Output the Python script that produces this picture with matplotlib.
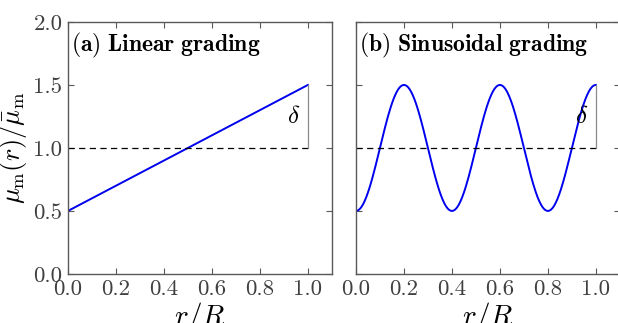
import numpy as np
import matplotlib
matplotlib.use("Agg")
import matplotlib.pyplot as plt

plt.rcParams['mathtext.fontset'] = 'cm'
plt.rcParams['font.family'] = 'serif'
plt.rcParams['font.serif'] = ['cmr10', 'DejaVu Serif']
plt.rcParams['axes.formatter.use_mathtext'] = True
plt.rcParams['axes.unicode_minus'] = False

# Datos
r_lineal = [0.0, 1.0]
mu_lineal = [0.5, 1.5]
mu_medio = 1.0
delta = 0.5
longitud_onda = 0.4
x_ticks = [0.0, 0.2, 0.4, 0.6, 0.8, 1.0]
y_ticks = [0.0, 0.5, 1.0, 1.5, 2.0]
titulos = [r'$(\mathbf{a})\ \mathbf{Linear\ grading}$',
           r'$(\mathbf{b})\ \mathbf{Sinusoidal\ grading}$']

r = np.linspace(0, 1, 400)
mu_sin = mu_medio - delta * np.cos(2 * np.pi * r / longitud_onda)

fig = plt.figure(figsize=(6.18, 3.23), dpi=100)
ax1 = fig.add_axes([0.110, 0.152, 0.427, 0.780])
ax2 = fig.add_axes([0.576, 0.152, 0.427, 0.780])

gris = '0.35'
for ax, (xs, ys), titulo in [(ax1, (r_lineal, mu_lineal), titulos[0]),
                             (ax2, (r, mu_sin), titulos[1])]:
    ax.plot(xs, ys, color='#0000ee', lw=1.4)
    ax.plot([0, 1], [mu_medio, mu_medio], 'k--', lw=0.9, dashes=(5, 3.5))
    ax.plot([1, 1], [mu_medio, mu_medio + delta], color='0.55', lw=0.9)
    ax.text(0.97, mu_medio + delta / 2, r'$\delta$', fontsize=18,
            ha='right', va='center')
    ax.text(0.01, 0.965, titulo, transform=ax.transAxes, fontsize=17,
            ha='left', va='top')
    ax.set_xlim(0, 1.1)
    ax.set_ylim(0, 2.0)
    ax.set_xticks(x_ticks)
    ax.set_yticks(y_ticks)
    ax.set_xticklabels([f'{t:.1f}' for t in x_ticks])
    ax.set_yticklabels([f'{t:.1f}' for t in y_ticks])
    ax.tick_params(direction='in', top=True, right=True, labelsize=16.5,
                   length=4, width=0.8, color=gris, labelcolor='0.25', pad=4)
    for s in ax.spines.values():
        s.set_color(gris)
        s.set_linewidth(1.0)
    ax.set_xlabel(r'$r/R$', fontsize=21, labelpad=1)

ax2.tick_params(labelleft=False)
ax1.set_ylabel(r'$\mu_{\mathrm{m}}(r)/\bar{\mu}_{\mathrm{m}}$', fontsize=19,
               labelpad=3)

fig.savefig('out.png', dpi=100)
